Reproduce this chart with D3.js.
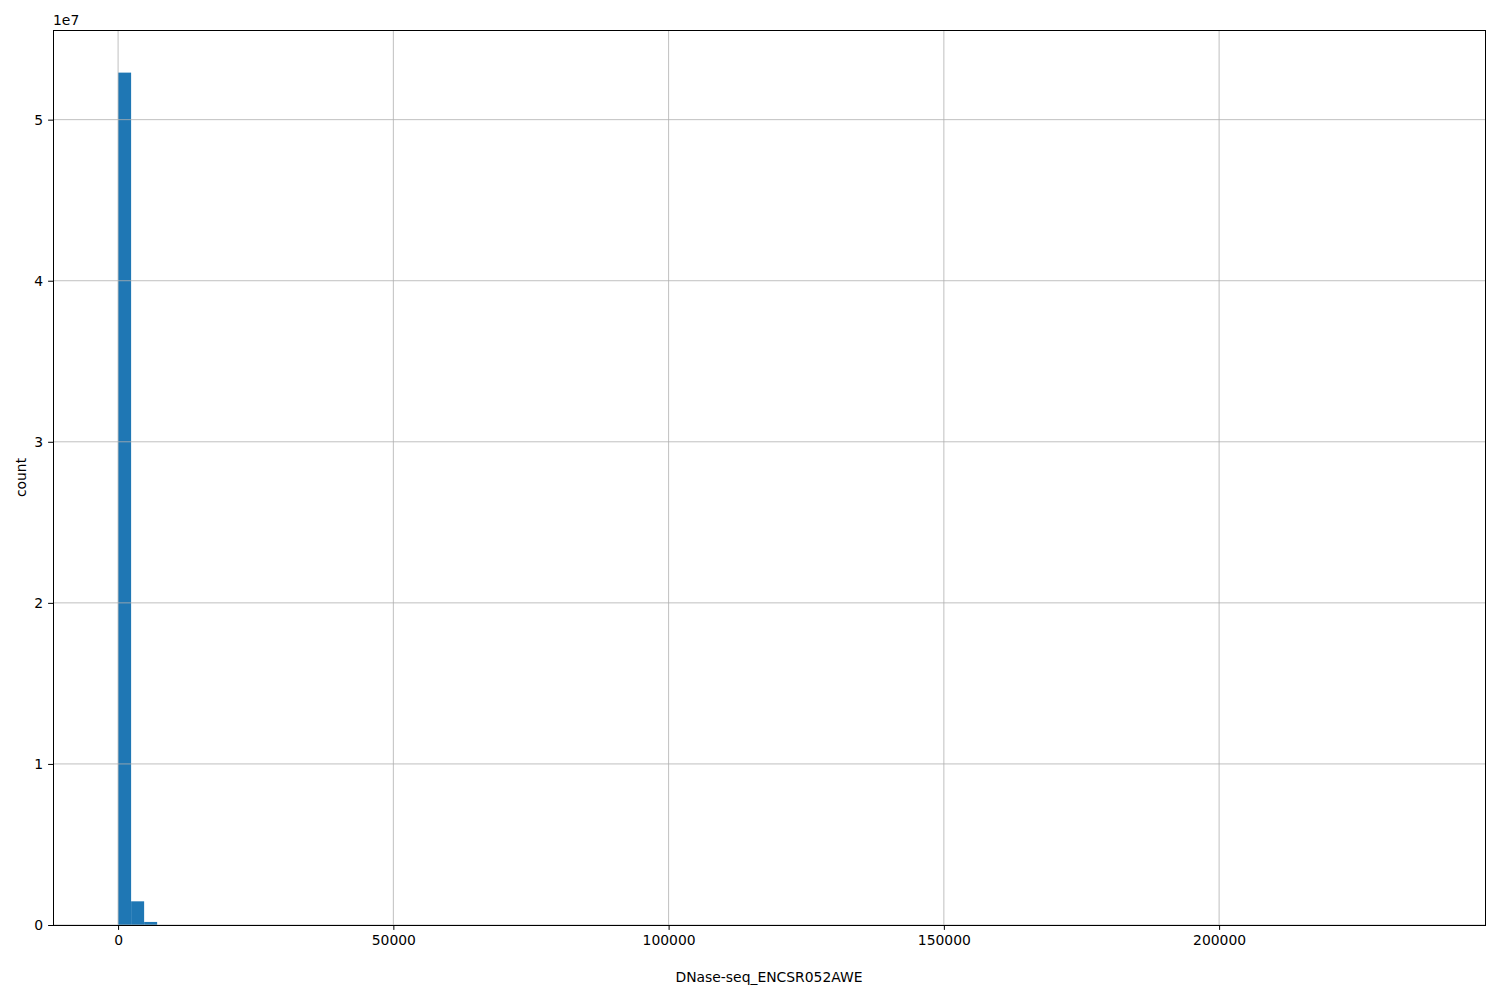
<!DOCTYPE html>
<html><head><meta charset="utf-8">
<script src="https://cdn.jsdelivr.net/npm/d3@7"></script>
<style>body{margin:0;background:#fff;} text{font-family:"DejaVu Sans",sans-serif;}</style>
</head><body>
<svg id="c" width="1500" height="1000"></svg>
<script>
// Histogram data (100 bins from 0 to dataMax)
const dataMin = 0;
const dataMax = 236473;
const binCount = 100;
const binCounts = [52920000, 1470000, 190000].concat(new Array(97).fill(0));
const xTicks = [0, 50000, 100000, 150000, 200000];
const yTicks = [0, 1e7, 2e7, 3e7, 4e7, 5e7];
const xLabel = "DNase-seq_ENCSR052AWE";
const yLabel = "count";

const svg = d3.select("#c");
const L = 53, T = 30, R = 1485, B = 925;
const span = dataMax - dataMin;
const x = d3.scaleLinear().domain([dataMin - 0.05*span, dataMax + 0.05*span]).range([L, R]);
const yMax = d3.max(binCounts);
const y = d3.scaleLinear().domain([0, yMax*1.05]).range([B, T]);
const bw = span / binCount;
const bins = binCounts.map((c, i) => ({x0: dataMin + i*bw, x1: dataMin + (i+1)*bw, c}));

svg.append("g").selectAll("rect").data(bins.filter(d => d.c > 0)).join("rect")
  .attr("x", d => x(d.x0)).attr("width", d => x(d.x1) - x(d.x0))
  .attr("y", d => y(d.c)).attr("height", d => B - y(d.c))
  .attr("fill", "#1f77b4");

// grid
const g = svg.append("g").attr("stroke", "#b0b0b0").attr("stroke-width", 0.8);
xTicks.forEach(t => g.append("line").attr("x1", x(t)).attr("x2", x(t)).attr("y1", T).attr("y2", B));
yTicks.forEach(t => g.append("line").attr("x1", L).attr("x2", R).attr("y1", y(t)).attr("y2", y(t)));

// axes
const xAxis = d3.axisBottom(x).tickValues(xTicks).tickSize(4.9).tickPadding(4.9).tickFormat(d3.format("d"));
const yAxis = d3.axisLeft(y).tickValues(yTicks).tickSize(4.9).tickPadding(4.9).tickFormat(d => d/1e7);
const gx = svg.append("g").attr("transform", `translate(0,${B})`).call(xAxis);
const gy = svg.append("g").attr("transform", `translate(${L},0)`).call(yAxis);
[gx, gy].forEach(a => {
  a.select(".domain").remove();
  a.selectAll("text").attr("font-size", "13.9px").attr("fill", "#000").attr("font-family", "DejaVu Sans");
  a.selectAll("line").attr("stroke", "#000").attr("stroke-width", 1);
});

svg.append("rect").attr("x", L + 0.5).attr("y", T + 0.5).attr("width", R-L).attr("height", B-T)
  .attr("fill", "none").attr("stroke", "#000").attr("stroke-width", 1);

svg.append("text").attr("x", L).attr("y", 25).attr("font-size", "13.9px").text("1e7");
svg.append("text").attr("x", (L+R)/2).attr("y", 982).attr("text-anchor", "middle").attr("font-size", "13.9px").text(xLabel);
svg.append("text").attr("transform", `translate(26,${(T+B)/2}) rotate(-90)`).attr("text-anchor", "middle").attr("font-size", "13.9px").text(yLabel);
</script>
</body></html>
